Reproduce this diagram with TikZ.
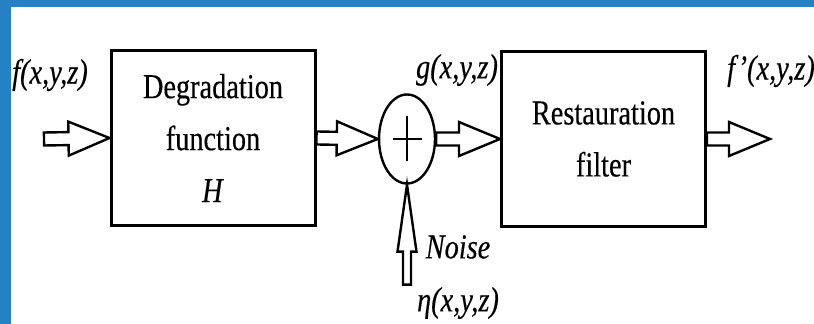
\documentclass[tikz,border=0pt]{standalone}
\usepackage{fontspec}
\setmainfont{Liberation Serif}[FakeStretch=0.81, FakeBold=0.3]
\usepackage{tikz}
\usetikzlibrary{calc, shapes.geometric}
\definecolor{frameblue}{RGB}{38,128,196}

\tikzset{
    hollow/.style n args={3}{draw, line width=1.2pt, fill=white, to path={
        let \p1=($(\tikztotarget)-(\tikztostart)$), \n1={atan2(\y1,\x1)} in
        ($(\tikztostart)+(\n1+90:#3)$) -- ($(\tikztotarget)+(\n1+180:#1)+(\n1+90:#3)$)
        -- ($(\tikztotarget)+(\n1+180:#1)+(\n1+90:#2)$) -- (\tikztotarget)
        -- ($(\tikztotarget)+(\n1+180:#1)+(\n1-90:#2)$)
        -- ($(\tikztotarget)+(\n1+180:#1)+(\n1-90:#3)$)
        -- ($(\tikztostart)+(\n1-90:#3)$) -- cycle}},
    harrow/.style={hollow={20.5pt}{8.5pt}{3.25pt}},
    varrow/.style={hollow={33.5pt}{4.75pt}{2pt}}
}

\begin{document}
\begin{tikzpicture}[x=0.5pt, y=-0.5pt, font=\fontsize{17.5}{26}\selectfont,
        blk/.style={draw, line width=1.5pt, minimum width=102pt, minimum height=87.5pt, align=center, inner sep=0pt}]
        \fill[frameblue] (0,0) rectangle (814,7);
        \fill[frameblue] (0,0) rectangle (10.5,324);
        \useasboundingbox (0,0) rectangle (814,324);

        \node[blk] (deg) at (213,138) {Degradation\\function\\\textit{H}};
        \node[ellipse, draw, line width=1.2pt, minimum width=28pt, minimum height=44.5pt, inner sep=0pt] (sum) at (407,139) {};
        \node[blk] (rest) at (603.5,139) {Restauration\\filter};
        \draw[line width=1.2pt] ([xshift=-7.25pt]sum.center) -- ([xshift=7.25pt]sum.center)
            ([yshift=-11.25pt]sum.center) -- ([yshift=11.25pt]sum.center);

        \coordinate (in) at (44,139);
        \coordinate (out) at (770,139);
        \coordinate (noise) at ([yshift=-50pt]sum.south);

        \node (f) at (50,75) {\textit{f(x,y,z)}};
        \node (g) at (457,70) {\textit{g(x,y,z)}};
        \node (fp) at (771,71) {\textit{f’(x,y,z)}};
        \node (lnoise) at (458,247) {\textit{Noise}};
        \node (eta) at (458,303) {\textit{η(x,y,z)}};

        \path
        (in) edge[harrow] (deg.west)
        (deg.east) edge[harrow] (sum.west)
        (sum.east) edge[harrow] (rest.west)
        (rest.east) edge[harrow] (out)
        (noise) edge[varrow] (sum.south);
\end{tikzpicture}
\end{document}
